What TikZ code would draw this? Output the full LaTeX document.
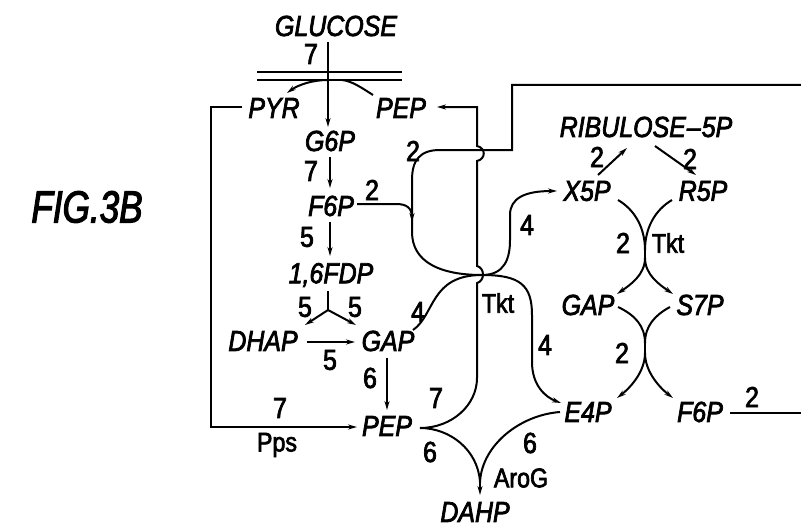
\documentclass[tikz,border=0pt]{standalone}
\usepackage{fontspec}
\setmainfont{Liberation Sans}
\newfontfamily\labf[FakeStretch=0.86,FakeBold=2.5]{Liberation Sans}
\newfontfamily\figf[FakeStretch=0.78,FakeBold=2.5]{Liberation Sans}
\usetikzlibrary{arrows.meta}
\begin{document}
\begin{tikzpicture}[x=1pt,y=-1pt,line width=2pt,
  met/.style={font=\fontsize{29}{29}\selectfont\labf\itshape, inner sep=2pt},
  num/.style={font=\fontsize{29}{29}\selectfont\labf, inner sep=0pt},
  enz/.style={font=\fontsize{27}{27}\selectfont\labf, inner sep=0pt},
  fig/.style={font=\fontsize{45}{45}\selectfont\figf\itshape, inner sep=0pt},
  arr/.style={-{Stealth[length=9pt,width=5pt]}}]
\useasboundingbox (0,0) rectangle (801,527);
% ---- texts
\node[fig] (fig) at (87,207) {FIG.3B};
\node[met] (glc) at (336,26) {GLUCOSE};
\node[num] (n1) at (311,54) {7};
\node[met] (pyr) at (274,108) {PYR};
\node[met] (pept) at (401,108) {PEP};
\node[met] (g6p) at (330,141) {G6P};
\node[num] (n2) at (311,171) {7};
\node[met] (f6p) at (331,206) {F6P};
\node[num] (n3) at (372,190) {2};
\node[num] (n4) at (307,237) {5};
\node[met] (fdp) at (331,275) {1,6FDP};
\node[num] (n5) at (305,307) {5};
\node[num] (n6) at (355,307) {5};
\node[met] (dhap) at (263,341) {DHAP};
\node[met] (gap) at (388,341) {GAP};
\node[num] (n7) at (330,360) {5};
\node[num] (n8) at (370,378) {6};
\node[met] (pep) at (387,426) {PEP};
\node[num] (n9) at (280,408) {7};
\node[enz] (pps) at (277,445) {Pps};
\node[num] (n10) at (436,398) {7};
\node[num] (n11) at (430,452) {6};
\node[met] (dahp) at (475,512) {DAHP};
\node[enz] (arog) at (521,478) {AroG};
\node[num] (n12) at (530,443) {6};
\node[num] (n13) at (413,151) {2};
\node[num] (n14) at (418,312) {4};
\node[enz] (tkt1) at (498,303) {Tkt};
\node[num] (n15) at (527,225) {4};
\node[num] (n16) at (545,345) {4};
\node[met] (rib) at (646,127) {RIBULOSE\kern1pt–\kern1pt5P};
\node[met] (x5p) at (587,191) {X5P};
\node[met] (r5p) at (703,191) {R5P};
\node[num] (n17) at (597,157) {2};
\node[num] (n18) at (690,159) {2};
\node[num] (n19) at (623,243) {2};
\node[enz] (tkt2) at (668,243) {Tkt};
\node[met] (gapr) at (588,305) {GAP};
\node[met] (s7p) at (700,305) {S7P};
\node[num] (n20) at (622,353) {2};
\node[met] (e4p) at (588,412) {E4P};
\node[met] (f6pr) at (700,412) {F6P};
\node[num] (n21) at (752,397) {2};
% ---- coordinates
\coordinate (glcB) at (328,42);
\coordinate (g6pT) at (328,127);
\coordinate (mem) at (328,80);
\coordinate (mem2) at (342,80);
\coordinate (pyrT) at (287,93);
\coordinate (peptA) at (373,95);
\coordinate (peptR) at (437,107);
\coordinate (pyrL) at (242,107);
\coordinate (boxTL) at (211,107);
\coordinate (boxBL) at (211,427);
\coordinate (pepL) at (357,427);
\coordinate (pepR) at (420,428);
\coordinate (J) at (482,275);
\coordinate (dj) at (480,482);
\coordinate (dahpT) at (480,495);
% ---- membrane
\draw (257,72) -- (402,72);
\draw (257,80) -- (402,80);
% ---- glycolysis
\draw[arr] (glcB) -- (g6pT);
\draw[arr] (mem) .. controls (312,80) and (298,85) .. (pyrT);
\draw (peptA) .. controls (362,88) and (352,81) .. (mem2);
\draw[arr] (330,157) -- (330,188);
\draw[arr] (330,222) -- (330,256);
\coordinate (fdpS) at (328,310);
\draw (328,291) -- (fdpS);
\draw[arr] (fdpS) -- (305,325);
\draw[arr] (fdpS) -- (356,325);
\draw[arr] (307,342) -- (355,342);
\draw[arr] (387,358) -- (387,410);
\draw[arr] (pyrL) -- (boxTL) -- (boxBL) -- (pepL);
% PEP up to top PEP with hops
\draw[arr] (pepR) .. controls (452,428) and (477,405) .. (477,378)
  -- (477,283) .. controls (485,281) and (485,268) .. (477,266)
  -- (477,161) .. controls (486,159) and (486,148) .. (477,146)
  -- (477,107) -- (peptR);
% outer line from the right
\draw (801,85) -- (512,85) -- (512,150) -- (440,150)
  .. controls (420,150) and (412,160) .. (412,180) -- (412,232)
  .. controls (412,262) and (440,275) .. (J);
\draw[arr] (412,205) -- (412,222);
\draw (357,204) -- (396,204) .. controls (407,204) and (412,208) .. (412,218);
% GAP to Tkt junction
\draw (413,330) .. controls (435,315) and (430,275) .. (J);
% junction to X5P and E4P
\draw[arr] (J) .. controls (505,275) and (510,258) .. (510,240) -- (510,215)
  .. controls (510,198) and (525,191) .. (557,191);
\draw[arr] (J) .. controls (520,275) and (532,285) .. (532,315) -- (532,362)
  .. controls (532,385) and (545,397) .. (561,403);
% ---- pentose phosphate
\draw[arr] (598,175) -- (627,148);
\draw[arr] (655,146) -- (696,175);
\coordinate (t1) at (645,250);
\coordinate (t1b) at (645,258);
\draw (618,200) .. controls (635,210) and (645,228) .. (t1);
\draw (672,200) .. controls (655,210) and (645,228) .. (t1);
\draw (t1) -- (t1b);
\draw[arr] (t1b) .. controls (645,275) and (630,285) .. (617,294);
\draw[arr] (t1b) .. controls (645,275) and (660,285) .. (673,294);
\coordinate (t2) at (645,343);
\coordinate (t2b) at (645,353);
\draw (618,307) .. controls (635,315) and (645,326) .. (t2);
\draw (670,307) .. controls (655,315) and (645,326) .. (t2);
\draw (t2) -- (t2b);
\draw[arr] (t2b) .. controls (645,372) and (630,388) .. (617,398);
\draw[arr] (t2b) .. controls (645,372) and (660,388) .. (673,398);
\draw (730,413) -- (801,413);
% ---- DAHP
\draw (pepR) .. controls (450,428) and (478,450) .. (dj);
\draw (560,412) .. controls (520,415) and (482,445) .. (dj);
\draw[arr] (dj) -- (dahpT);
\end{tikzpicture}
\end{document}
